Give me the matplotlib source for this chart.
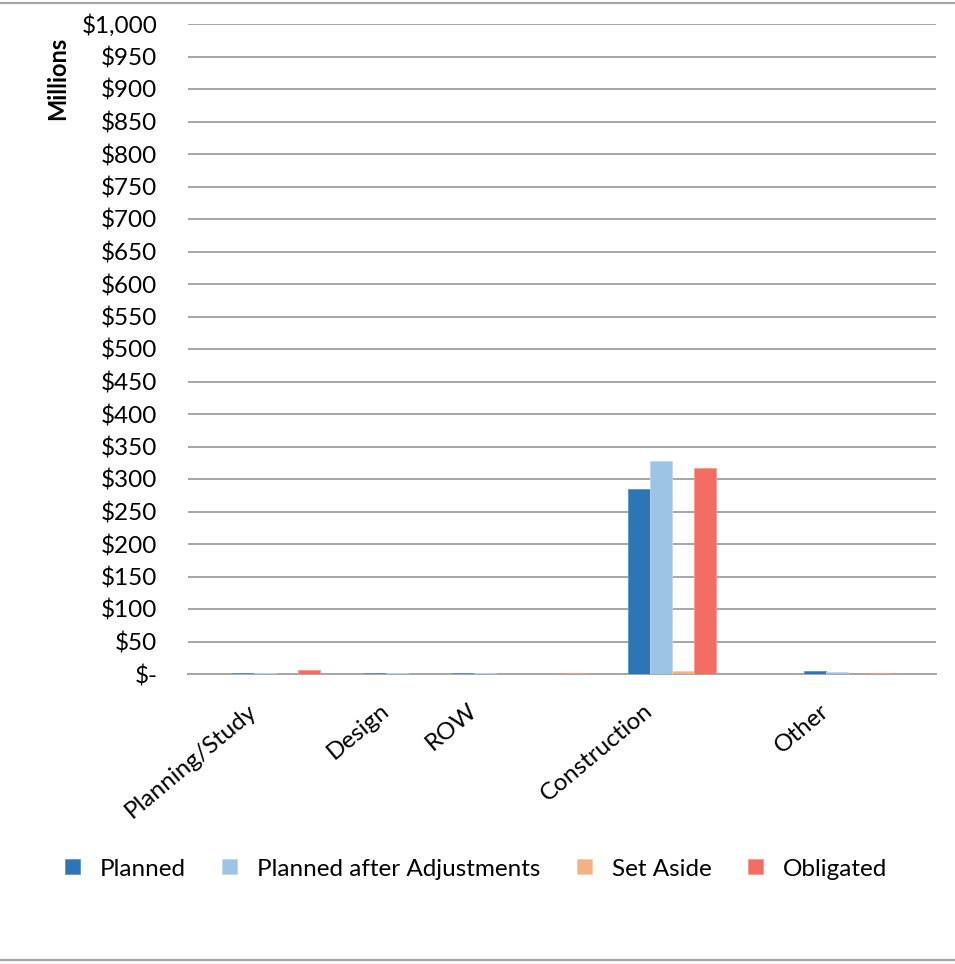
import matplotlib
matplotlib.use("Agg")
import matplotlib.pyplot as plt
from matplotlib.lines import Line2D
from matplotlib.patches import Patch
from matplotlib import transforms
import numpy as np

plt.rcParams['font.family'] = ['Lato', 'DejaVu Sans']

# ---- data (millions of dollars) ----
categories = ["Planning/Study", "Design", "ROW", "", "Construction", "Other"]
series_names = ["Planned", "Planned after Adjustments", "Set Aside", "Obligated"]
planned       = [1.5, 1.5, 1.0, 0.0, 284.0, 4.0]
planned_adj   = [1.0, 1.0, 1.0, 0.0, 328.0, 3.5]
set_aside     = [0.0, 0.0, 0.0, 0.0, 4.5, 0.0]
obligated     = [6.0, 0.0, 0.0, 1.0, 316.5, 1.0]
y_ticks = list(range(0, 1001, 50))
y_tick_labels = ["$-"] + ["${:,}".format(v) for v in y_ticks[1:]]

# ---- layout ----
cat_pos = [4, 10, 14, 16, 22, 30]
colors = ["#2E75B6", "#9DC3E6", "#F4B183", "#F46D62"]
edge_colors = ["#5B93C7", "#BDD7EE", "#F8CBAD", "#F89A92"]
FS = 17.5

W, H = 955, 964
fig = plt.figure(figsize=(W / 100, H / 100), dpi=100)
ax = fig.add_axes([188 / W, 1 - 674 / H, (936 - 188) / W, (674 - 24) / H])

all_series = [planned, planned_adj, set_aside, obligated]
pos = np.array(cat_pos, dtype=float)
for i, vals in enumerate(all_series):
    ax.bar(pos - 2 + i + 0.5, vals, width=1.0, color=colors[i],
           edgecolor=edge_colors[i], linewidth=0.6, zorder=3)

ax.set_xlim(0, 34)
ax.set_ylim(0, 1000)
ax.set_yticks(y_ticks)
ax.set_yticklabels(y_tick_labels, fontsize=FS)
ax.yaxis.grid(True, color="#A6A6A6", linewidth=1.4, zorder=0)
ax.tick_params(axis='y', length=0, pad=22)
ax.tick_params(axis='x', length=0)
ax.set_xticks([])
for s in ["top", "right", "left"]:
    ax.spines[s].set_visible(False)
ax.spines["bottom"].set_color("#A6A6A6")
ax.spines["bottom"].set_linewidth(1.4)

# category labels
trans = transforms.blended_transform_factory(ax.transData, ax.transAxes)
for c, name in zip(cat_pos, categories):
    if not name:
        continue
    off = transforms.ScaledTranslation(-22 / 100, -34 / 100, fig.dpi_scale_trans)
    ax.text(c, 0, name, transform=trans + off, rotation=40, ha='right', va='center',
            rotation_mode='anchor', fontsize=FS)

fig.text(58 / W, 1 - 78 / H, "Millions", rotation=90, ha='center', va='center',
         fontsize=17, fontweight='bold')

handles = [Patch(facecolor=colors[i], edgecolor=edge_colors[i], linewidth=0.6)
           for i in range(4)]
fig.legend(handles, series_names, loc='center', bbox_to_anchor=(476 / W, 1 - 869 / H),
           ncol=4, frameon=False, fontsize=FS, handlelength=0.62, handleheight=0.58,
           handletextpad=0.82, columnspacing=1.5)

fig.add_artist(Line2D([0, 1], [1 - 3 / H, 1 - 3 / H], color="#A6A6A6", linewidth=1.6,
                      transform=fig.transFigure))
fig.add_artist(Line2D([0, 1], [1 - 960 / H, 1 - 960 / H], color="#A6A6A6", linewidth=1.6,
                      transform=fig.transFigure))

fig.savefig("out.png", dpi=100)
